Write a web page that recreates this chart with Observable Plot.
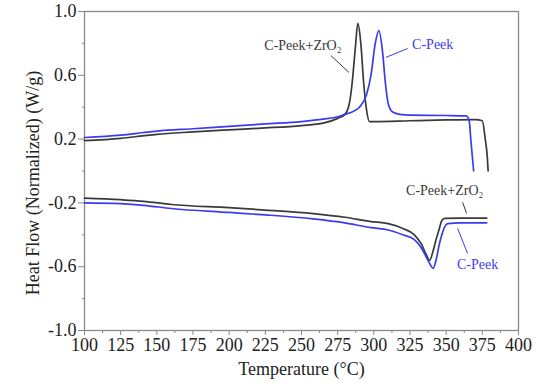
<!DOCTYPE html>
<html>
<head>
<meta charset="utf-8">
<script src="https://cdn.jsdelivr.net/npm/d3@7"></script>
<script src="https://cdn.jsdelivr.net/npm/@observablehq/plot@0.6"></script>
<style>
  html, body { margin: 0; padding: 0; background: #fff; }
  #chart svg { display: block; font-family: 'Liberation Serif', 'Times New Roman', serif; }
  #chart svg text { font-family: 'Liberation Serif', 'Times New Roman', serif; }
</style>
</head>
<body>
<div id="chart"></div>
<script>
// Upper (cooling / crystallization) curves
const upZrT  = [100,125,140,150,175,200,225,250,265,275,280,283,285,287,289,291,293,295,297,300,325,350,370,375,377,378.5,379];
const upZrHF = [0.19,0.205,0.22,0.23,0.245,0.258,0.27,0.285,0.30,0.33,0.355,0.42,0.55,0.75,0.925,0.80,0.55,0.38,0.31,0.31,0.315,0.32,0.322,0.315,0.2,0.08,0.0];
const upPkT  = [100,125,140,150,175,200,225,250,265,275,280,285,290,295,298,301,303.5,306,308,310,313,318,325,350,364,366,367,368,369];
const upPkHF = [0.21,0.225,0.24,0.25,0.265,0.28,0.295,0.31,0.325,0.34,0.355,0.37,0.40,0.48,0.6,0.8,0.88,0.75,0.55,0.42,0.37,0.355,0.35,0.348,0.345,0.31,0.2,0.1,0.0];
// Lower (heating / melting) curves
const loZrT  = [100,125,141,160,200,225,258,280,298,310,320,328,333,336,338.6,341,343,345,347,349,360,378];
const loZrHF = [-0.17,-0.18,-0.19,-0.21,-0.23,-0.245,-0.267,-0.29,-0.317,-0.33,-0.36,-0.40,-0.46,-0.52,-0.56,-0.50,-0.43,-0.37,-0.31,-0.297,-0.296,-0.296];
const loPkT  = [100,125,141,160,200,225,258,280,298,310,320,328,334,338,341,343,345,347,349,351,360,378];
const loPkHF = [-0.20,-0.205,-0.215,-0.235,-0.26,-0.275,-0.30,-0.325,-0.355,-0.37,-0.40,-0.43,-0.50,-0.57,-0.61,-0.56,-0.47,-0.40,-0.35,-0.33,-0.325,-0.325];

const seriesNames = ["C-Peek+ZrO₂", "C-Peek"];
const xTicks = [100,125,150,175,200,225,250,275,300,325,350,375,400];
const xMinor = [112.5,137.5,162.5,187.5,212.5,237.5,262.5,287.5,312.5,337.5,362.5,387.5];
const yTicks = [-1.0,-0.6,-0.2,0.2,0.6,1.0];
const yMinor = [-0.8,-0.4,0.0,0.4,0.8];

// annotation labels and leader lines (data coordinates)
const labelText = ["C-Peek+ZrO₂", "C-Peek", "C-Peek+ZrO₂", "C-Peek"];
const labelX = [251, 340.7, 349, 371.7];
const labelY = [0.787, 0.793, -0.122, -0.586];
const labelSeries = [0, 1, 0, 1];
const leadX1 = [270.3, 308.3, 364.1, 364.8];
const leadY1 = [0.724, 0.712, -0.266, -0.517];
const leadX2 = [282.8, 323.4, 361.4, 357.9];
const leadY2 = [0.618, 0.768, -0.197, -0.36];

const colors = ["#3a3a3a", "#3b3bf2"];
const mk = (T, H, s, g) => T.map((t, i) => ({t, hf: H[i], s, g}));
const curves = [
  ...mk(upZrT, upZrHF, 0, "uz"), ...mk(upPkT, upPkHF, 1, "up"),
  ...mk(loZrT, loZrHF, 0, "lz"), ...mk(loPkT, loPkHF, 1, "lp")
];
const labels = labelText.map((txt, i) => ({txt, x: labelX[i], y: labelY[i], s: labelSeries[i]}));
const leaders = leadX1.map((x1, i) => ({x1, y1: leadY1[i], x2: leadX2[i], y2: leadY2[i], s: labelSeries[i]}));

const font = "'Liberation Serif', 'Times New Roman', serif";
const fmt = d => d.toFixed(1);

const plot = Plot.plot({
  width: 539,
  height: 383,
  marginLeft: 84,
  marginRight: 21,
  marginTop: 11,
  marginBottom: 53,
  style: {fontFamily: font, background: "#fff", color: "#222"},
  x: {domain: [100, 400]},
  y: {domain: [-1.0, 1.0]},
  marks: [
    Plot.axisX(xTicks, {tickSize: 5, tickPadding: 3, fontSize: 18, fontFamily: font, stroke: "#888", color: "#222", label: null}),
    Plot.axisX(xMinor, {tickSize: 3, text: null, stroke: "#888", label: null}),
    Plot.axisY(yTicks, {tickSize: 6, tickPadding: 2, fontSize: 18, fontFamily: font, tickFormat: fmt, stroke: "#888", color: "#222", label: null}),
    Plot.axisY(yMinor, {tickSize: 2, text: null, stroke: "#888", label: null}),
    Plot.frame({stroke: "#8a8a8a", strokeWidth: 1.3}),
    Plot.line(curves, {x: "t", y: "hf", z: "g", stroke: d => colors[d.s], strokeWidth: 1.7, curve: "monotone-x"}),
    Plot.link(leaders, {x1: "x1", y1: "y1", x2: "x2", y2: "y2", stroke: d => colors[d.s], strokeWidth: 1}),
    Plot.text(labels, {x: "x", y: "y", text: "txt", fill: d => colors[d.s], fontSize: 14, fontFamily: font}),
    Plot.text(["Temperature (°C)"], {frameAnchor: "bottom", textAnchor: "middle", dy: 44, fontSize: 18, fontFamily: font, fill: "#222"}),
    Plot.text(["Heat Flow (Normalized) (W/g)"], {frameAnchor: "left", textAnchor: "middle", rotate: -90, dx: -51, dy: 12, fontSize: 18, fontFamily: font, fill: "#222"})
  ]
});
document.getElementById("chart").appendChild(plot);
</script>
</body>
</html>
